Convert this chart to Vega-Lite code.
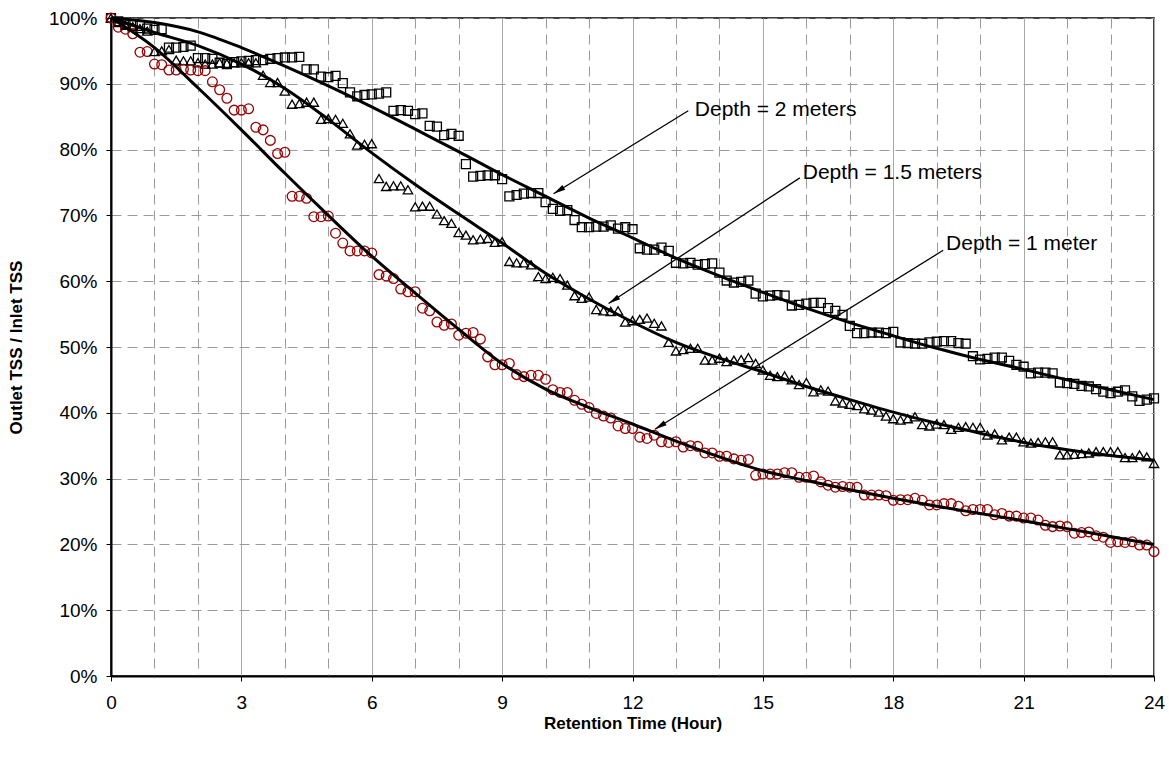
{
  "$schema": "https://vega.github.io/schema/vega-lite/v6.json",
  "width": 1043,
  "height": 658,
  "autosize": {"type": "none"},
  "padding": {"left": 111, "top": 18, "right": 15, "bottom": 86},
  "background": "white",
  "config": {
    "font": "Liberation Sans",
    "view": {"stroke": "#000", "strokeWidth": 1.5},
    "axis": {
      "labelFont": "Liberation Sans",
      "titleFont": "Liberation Sans",
      "labelColor": "#000",
      "titleColor": "#000",
      "labelFontSize": 19,
      "titleFontSize": 17,
      "titleFontWeight": "bold",
      "domainColor": "#000",
      "domainWidth": 2,
      "tickColor": "#000",
      "tickSize": 5,
      "tickWidth": 1,
      "labelOverlap": false,
      "labelFlush": false
    }
  },
  "datasets": {
    "obs": [
      {"min":0,"d2":100,"d15":100,"d1":100},
      {"min":10,"d2":99.5,"d15":99.3,"d1":98.6},
      {"min":20,"d2":99.1,"d15":98.9,"d1":98.3},
      {"min":30,"d2":99.0,"d15":98.7,"d1":97.6},
      {"min":40,"d2":98.8,"d15":98.4,"d1":94.8},
      {"min":50,"d2":98.4,"d15":98.0,"d1":94.9},
      {"min":60,"d2":98.2,"d15":94.9,"d1":93.0},
      {"min":70,"d2":98.3,"d15":95.0,"d1":92.9},
      {"min":80,"d2":95.5,"d15":95.2,"d1":92.1},
      {"min":90,"d2":95.5,"d15":93.6,"d1":92.1},
      {"min":100,"d2":95.6,"d15":93.5,"d1":92.2},
      {"min":110,"d2":95.8,"d15":93.5,"d1":92.1},
      {"min":120,"d2":93.9,"d15":93.2,"d1":92.0},
      {"min":130,"d2":93.9,"d15":93.0,"d1":92.0},
      {"min":140,"d2":93.8,"d15":93.0,"d1":90.3},
      {"min":150,"d2":93.2,"d15":93.2,"d1":89.1},
      {"min":160,"d2":93.0,"d15":93.1,"d1":87.8},
      {"min":170,"d2":93.3,"d15":93.2,"d1":86.0},
      {"min":180,"d2":93.4,"d15":93.2,"d1":86.0},
      {"min":190,"d2":93.5,"d15":93.2,"d1":86.2},
      {"min":200,"d2":93.6,"d15":93.2,"d1":83.4},
      {"min":210,"d2":93.6,"d15":91.3,"d1":83.0},
      {"min":220,"d2":93.8,"d15":90.2,"d1":81.4},
      {"min":230,"d2":93.9,"d15":90.2,"d1":79.4},
      {"min":240,"d2":94.0,"d15":88.9,"d1":79.6},
      {"min":250,"d2":94.0,"d15":86.9,"d1":72.9},
      {"min":260,"d2":94.1,"d15":87.0,"d1":72.9},
      {"min":270,"d2":92.2,"d15":87.2,"d1":72.6},
      {"min":280,"d2":92.2,"d15":87.2,"d1":69.8},
      {"min":290,"d2":91.1,"d15":84.6,"d1":69.8},
      {"min":300,"d2":91.0,"d15":84.7,"d1":69.9},
      {"min":310,"d2":91.2,"d15":84.6,"d1":67.3},
      {"min":320,"d2":90.1,"d15":84.0,"d1":65.8},
      {"min":330,"d2":88.7,"d15":82.4,"d1":64.6},
      {"min":340,"d2":88.1,"d15":80.7,"d1":64.6},
      {"min":350,"d2":88.3,"d15":80.8,"d1":64.6},
      {"min":360,"d2":88.4,"d15":80.9,"d1":64.3},
      {"min":370,"d2":88.5,"d15":75.6,"d1":61.0},
      {"min":380,"d2":88.7,"d15":74.4,"d1":60.8},
      {"min":390,"d2":85.9,"d15":74.5,"d1":60.4},
      {"min":400,"d2":86.0,"d15":74.5,"d1":58.8},
      {"min":410,"d2":85.9,"d15":73.9,"d1":58.4},
      {"min":420,"d2":85.4,"d15":71.3,"d1":58.4},
      {"min":430,"d2":85.5,"d15":71.4,"d1":55.9},
      {"min":440,"d2":83.6,"d15":71.4,"d1":55.5},
      {"min":450,"d2":83.5,"d15":70.2,"d1":53.8},
      {"min":460,"d2":82.2,"d15":69.2,"d1":53.3},
      {"min":470,"d2":82.4,"d15":68.8,"d1":53.5},
      {"min":480,"d2":82.1,"d15":67.4,"d1":51.8},
      {"min":490,"d2":77.8,"d15":67.0,"d1":52.1},
      {"min":500,"d2":75.9,"d15":66.3,"d1":52.2},
      {"min":510,"d2":76.0,"d15":66.4,"d1":51.2},
      {"min":520,"d2":76.1,"d15":66.5,"d1":48.5},
      {"min":530,"d2":76.1,"d15":65.9,"d1":47.3},
      {"min":540,"d2":75.5,"d15":66.0,"d1":47.3},
      {"min":550,"d2":72.9,"d15":63.0,"d1":47.5},
      {"min":560,"d2":73.1,"d15":62.8,"d1":45.8},
      {"min":570,"d2":73.3,"d15":62.8,"d1":45.5},
      {"min":580,"d2":73.4,"d15":62.5,"d1":45.7},
      {"min":590,"d2":73.4,"d15":60.7,"d1":45.7},
      {"min":600,"d2":72.0,"d15":60.4,"d1":45.1},
      {"min":610,"d2":71.0,"d15":60.6,"d1":43.5},
      {"min":620,"d2":70.7,"d15":60.4,"d1":43.1},
      {"min":630,"d2":70.8,"d15":59.4,"d1":43.1},
      {"min":640,"d2":69.3,"d15":57.8,"d1":41.9},
      {"min":650,"d2":68.2,"d15":57.4,"d1":41.3},
      {"min":660,"d2":68.2,"d15":57.6,"d1":40.8},
      {"min":670,"d2":68.3,"d15":55.7,"d1":39.9},
      {"min":680,"d2":68.3,"d15":55.5,"d1":39.5},
      {"min":690,"d2":68.5,"d15":55.4,"d1":39.2},
      {"min":700,"d2":68.0,"d15":55.5,"d1":38.0},
      {"min":710,"d2":68.2,"d15":53.8,"d1":37.6},
      {"min":720,"d2":67.9,"d15":54.0,"d1":37.6},
      {"min":730,"d2":65.0,"d15":54.2,"d1":36.3},
      {"min":740,"d2":64.8,"d15":54.4,"d1":36.1},
      {"min":750,"d2":64.8,"d15":53.6,"d1":36.6},
      {"min":760,"d2":65.1,"d15":53.2,"d1":35.6},
      {"min":770,"d2":64.6,"d15":50.7,"d1":35.5},
      {"min":780,"d2":62.8,"d15":49.4,"d1":35.6},
      {"min":790,"d2":62.7,"d15":49.6,"d1":34.8},
      {"min":800,"d2":62.8,"d15":49.8,"d1":35.0},
      {"min":810,"d2":62.5,"d15":49.8,"d1":34.9},
      {"min":820,"d2":62.6,"d15":48.0,"d1":33.9},
      {"min":830,"d2":62.7,"d15":48.0,"d1":33.9},
      {"min":840,"d2":61.3,"d15":48.3,"d1":33.4},
      {"min":850,"d2":60.1,"d15":47.8,"d1":33.4},
      {"min":860,"d2":59.8,"d15":48.0,"d1":33.0},
      {"min":870,"d2":59.9,"d15":48.1,"d1":32.8},
      {"min":880,"d2":60.1,"d15":48.4,"d1":32.9},
      {"min":890,"d2":58.1,"d15":47.5,"d1":30.5},
      {"min":900,"d2":57.7,"d15":46.5,"d1":30.7},
      {"min":910,"d2":57.8,"d15":45.7,"d1":30.7},
      {"min":920,"d2":57.9,"d15":45.5,"d1":30.7},
      {"min":930,"d2":57.8,"d15":45.6,"d1":30.9},
      {"min":940,"d2":56.3,"d15":45.0,"d1":30.9},
      {"min":950,"d2":56.4,"d15":44.3,"d1":30.2},
      {"min":960,"d2":56.6,"d15":44.6,"d1":30.2},
      {"min":970,"d2":56.7,"d15":43.2,"d1":30.4},
      {"min":980,"d2":56.7,"d15":43.5,"d1":29.5},
      {"min":990,"d2":55.9,"d15":43.3,"d1":29.0},
      {"min":1000,"d2":55.5,"d15":41.8,"d1":28.7},
      {"min":1010,"d2":54.9,"d15":41.5,"d1":28.8},
      {"min":1020,"d2":53.2,"d15":41.3,"d1":28.7},
      {"min":1030,"d2":52.1,"d15":41.1,"d1":28.7},
      {"min":1040,"d2":52.1,"d15":40.6,"d1":27.5},
      {"min":1050,"d2":52.2,"d15":40.4,"d1":27.5},
      {"min":1060,"d2":52.2,"d15":40.1,"d1":27.5},
      {"min":1070,"d2":52.1,"d15":39.5,"d1":27.4},
      {"min":1080,"d2":52.3,"d15":39.1,"d1":26.7},
      {"min":1090,"d2":50.7,"d15":38.9,"d1":26.8},
      {"min":1100,"d2":50.6,"d15":39.1,"d1":26.8},
      {"min":1110,"d2":50.5,"d15":39.4,"d1":27.0},
      {"min":1120,"d2":50.5,"d15":38.2,"d1":26.7},
      {"min":1130,"d2":50.7,"d15":38.0,"d1":26.0},
      {"min":1140,"d2":50.8,"d15":38.3,"d1":26.0},
      {"min":1150,"d2":50.9,"d15":38.2,"d1":26.2},
      {"min":1160,"d2":50.9,"d15":37.5,"d1":26.2},
      {"min":1170,"d2":50.6,"d15":37.8,"d1":25.8},
      {"min":1180,"d2":50.5,"d15":37.9,"d1":25.1},
      {"min":1190,"d2":48.6,"d15":37.8,"d1":25.3},
      {"min":1200,"d2":48.1,"d15":37.8,"d1":25.3},
      {"min":1210,"d2":48.2,"d15":36.6,"d1":25.3},
      {"min":1220,"d2":48.4,"d15":36.8,"d1":24.5},
      {"min":1230,"d2":48.4,"d15":35.9,"d1":24.7},
      {"min":1240,"d2":47.9,"d15":36.3,"d1":24.3},
      {"min":1250,"d2":47.3,"d15":36.3,"d1":24.3},
      {"min":1260,"d2":47.0,"d15":35.6,"d1":24.0},
      {"min":1270,"d2":46.0,"d15":35.4,"d1":24.0},
      {"min":1280,"d2":46.1,"d15":35.5,"d1":23.7},
      {"min":1290,"d2":46.1,"d15":35.6,"d1":22.9},
      {"min":1300,"d2":46.0,"d15":35.6,"d1":22.7},
      {"min":1310,"d2":44.6,"d15":33.6,"d1":22.8},
      {"min":1320,"d2":44.5,"d15":33.6,"d1":22.7},
      {"min":1330,"d2":44.4,"d15":33.7,"d1":21.7},
      {"min":1340,"d2":44.1,"d15":33.8,"d1":21.8},
      {"min":1350,"d2":44.0,"d15":33.9,"d1":21.9},
      {"min":1360,"d2":43.6,"d15":34.1,"d1":21.3},
      {"min":1370,"d2":43.2,"d15":34.1,"d1":21.1},
      {"min":1380,"d2":43.0,"d15":34.1,"d1":20.3},
      {"min":1390,"d2":43.2,"d15":34.1,"d1":20.4},
      {"min":1400,"d2":43.4,"d15":33.2,"d1":20.3},
      {"min":1410,"d2":42.5,"d15":33.2,"d1":20.4},
      {"min":1420,"d2":41.8,"d15":33.6,"d1":19.9},
      {"min":1430,"d2":42.0,"d15":33.3,"d1":19.9},
      {"min":1440,"d2":42.2,"d15":32.3,"d1":18.9}
    ],
    "fit": [
      {"min":0,"d2":100,"d15":100,"d1":100},
      {"min":60,"d2":99.3,"d15":97.8,"d1":95.5},
      {"min":120,"d2":97.9,"d15":95.8,"d1":89.4},
      {"min":180,"d2":95.5,"d15":93.0,"d1":83.0},
      {"min":240,"d2":92.7,"d15":89.3,"d1":76.4},
      {"min":300,"d2":89.7,"d15":84.6,"d1":70.0},
      {"min":360,"d2":86.5,"d15":79.5,"d1":63.8},
      {"min":420,"d2":83.1,"d15":74.7,"d1":58.2},
      {"min":480,"d2":79.7,"d15":70.2,"d1":52.7},
      {"min":540,"d2":76.2,"d15":65.8,"d1":47.5},
      {"min":600,"d2":72.9,"d15":61.2,"d1":43.6},
      {"min":660,"d2":69.6,"d15":57.3,"d1":40.8},
      {"min":720,"d2":66.6,"d15":53.8,"d1":38.3},
      {"min":780,"d2":63.5,"d15":50.7,"d1":35.7},
      {"min":840,"d2":60.8,"d15":48.3,"d1":33.3},
      {"min":900,"d2":58.3,"d15":46.2,"d1":31.2},
      {"min":960,"d2":55.9,"d15":44.0,"d1":29.7},
      {"min":1020,"d2":53.7,"d15":42.0,"d1":28.3},
      {"min":1080,"d2":51.7,"d15":40.1,"d1":27.0},
      {"min":1140,"d2":49.8,"d15":38.4,"d1":25.8},
      {"min":1200,"d2":48.1,"d15":36.9,"d1":24.7},
      {"min":1260,"d2":46.6,"d15":35.5,"d1":23.6},
      {"min":1320,"d2":45.0,"d15":34.4,"d1":22.4},
      {"min":1380,"d2":43.5,"d15":33.5,"d1":21.2},
      {"min":1440,"d2":42.0,"d15":32.8,"d1":20.0}
    ],
    "notes": [
      {"id":"a","text":"Depth = 2 meters","tx":806,"ty":86.0,"x1":797,"y1":85.9,"x2":611,"y2":73.3},
      {"id":"b","text":"Depth = 1.5 meters","tx":955,"ty":76.4,"x1":951,"y1":75.7,"x2":687,"y2":56.6},
      {"id":"c","text":"Depth = 1 meter","tx":1153,"ty":65.7,"x1":1149,"y1":64.7,"x2":751,"y2":37.5}
    ]
  },
  "layer": [
    {
      "data": {"name": "obs"},
      "transform": [{"fold": ["d2", "d15", "d1"], "as": ["series", "pct"]}],
      "mark": {"type": "point", "filled": false, "strokeWidth": 1.3, "opacity": 1},
      "encoding": {
        "x": {
          "field": "min", "type": "quantitative",
          "scale": {"domain": [0, 1440], "nice": false, "zero": false},
          "axis": {
            "title": "Retention Time (Hour)",
            "values": [0,60,120,180,240,300,360,420,480,540,600,660,720,780,840,900,960,1020,1080,1140,1200,1260,1320,1380,1440],
            "labelExpr": "datum.value % 180 === 0 ? '' + (datum.value / 60) : ''",
            "labelPadding": 12,
            "grid": true,
            "gridColor": {"condition": {"test": "datum.value % 180 !== 0", "value": "#9a9a9a"}, "value": "#a8a8a8"},
            "gridDash": {"condition": {"test": "datum.value % 180 !== 0", "value": [10, 6]}, "value": []},
            "gridWidth": 1,
            "tickOpacity": {"condition": {"test": "datum.value % 180 !== 0", "value": 0}, "value": 1},
            "titleY": 47,
            "titleBaseline": "middle"
          }
        },
        "y": {
          "field": "pct", "type": "quantitative",
          "scale": {"domain": [0, 100], "nice": false},
          "axis": {
            "title": "Outlet TSS / Inlet TSS",
            "values": [0,10,20,30,40,50,60,70,80,90,100],
            "labelExpr": "datum.value + '%'",
            "labelPadding": 9,
            "grid": true,
            "gridColor": "#9a9a9a",
            "gridDash": [10, 6],
            "titleX": -86,
            "titleY": 329,
            "titleAngle": -90,
            "titleAlign": "center",
            "titleBaseline": "bottom"
          }
        },
        "shape": {"field": "series", "type": "nominal", "scale": {"domain": ["d2", "d15", "d1"], "range": ["square", "triangle-up", "circle"]}, "legend": null},
        "color": {"field": "series", "type": "nominal", "scale": {"domain": ["d2", "d15", "d1"], "range": ["#000000", "#000000", "#990000"]}, "legend": null},
        "size": {"field": "series", "type": "nominal", "scale": {"domain": ["d2", "d15", "d1"], "range": [80, 95, 70]}, "legend": null}
      }
    },
    {
      "data": {"name": "fit"},
      "transform": [{"fold": ["d2", "d15", "d1"], "as": ["series", "pct"]}],
      "mark": {"type": "line", "color": "#000", "strokeWidth": 3, "interpolate": "monotone"},
      "encoding": {
        "x": {"field": "min", "type": "quantitative"},
        "y": {"field": "pct", "type": "quantitative"},
        "detail": {"field": "series"}
      }
    },
    {
      "data": {"name": "notes"},
      "mark": {"type": "rule", "color": "#000", "strokeWidth": 1.3},
      "encoding": {
        "x": {"field": "x1", "type": "quantitative"},
        "y": {"field": "y1", "type": "quantitative"},
        "x2": {"field": "x2"},
        "y2": {"field": "y2"}
      }
    },
    {
      "data": {"name": "notes"},
      "transform": [{"filter": {"field": "id", "equal": "a"}}],
      "mark": {"type": "point", "shape": "M0,0L-0.45,2L0.45,2Z", "filled": true, "color": "#000", "size": 144, "opacity": 1, "angle": 238.5, "strokeWidth": 0},
      "encoding": {
        "x": {"field": "x2", "type": "quantitative"},
        "y": {"field": "y2", "type": "quantitative"}
      }
    },
    {
      "data": {"name": "notes"},
      "transform": [{"filter": {"field": "id", "equal": "b"}}],
      "mark": {"type": "point", "shape": "M0,0L-0.45,2L0.45,2Z", "filled": true, "color": "#000", "size": 144, "opacity": 1, "angle": 236.9, "strokeWidth": 0},
      "encoding": {
        "x": {"field": "x2", "type": "quantitative"},
        "y": {"field": "y2", "type": "quantitative"}
      }
    },
    {
      "data": {"name": "notes"},
      "transform": [{"filter": {"field": "id", "equal": "c"}}],
      "mark": {"type": "point", "shape": "M0,0L-0.45,2L0.45,2Z", "filled": true, "color": "#000", "size": 144, "opacity": 1, "angle": 238, "strokeWidth": 0},
      "encoding": {
        "x": {"field": "x2", "type": "quantitative"},
        "y": {"field": "y2", "type": "quantitative"}
      }
    },
    {
      "data": {"name": "notes"},
      "mark": {"type": "text", "align": "left", "baseline": "middle", "fontSize": 21, "font": "Liberation Sans", "color": "#000"},
      "encoding": {
        "x": {"field": "tx", "type": "quantitative"},
        "y": {"field": "ty", "type": "quantitative"},
        "text": {"field": "text"}
      }
    }
  ]
}
